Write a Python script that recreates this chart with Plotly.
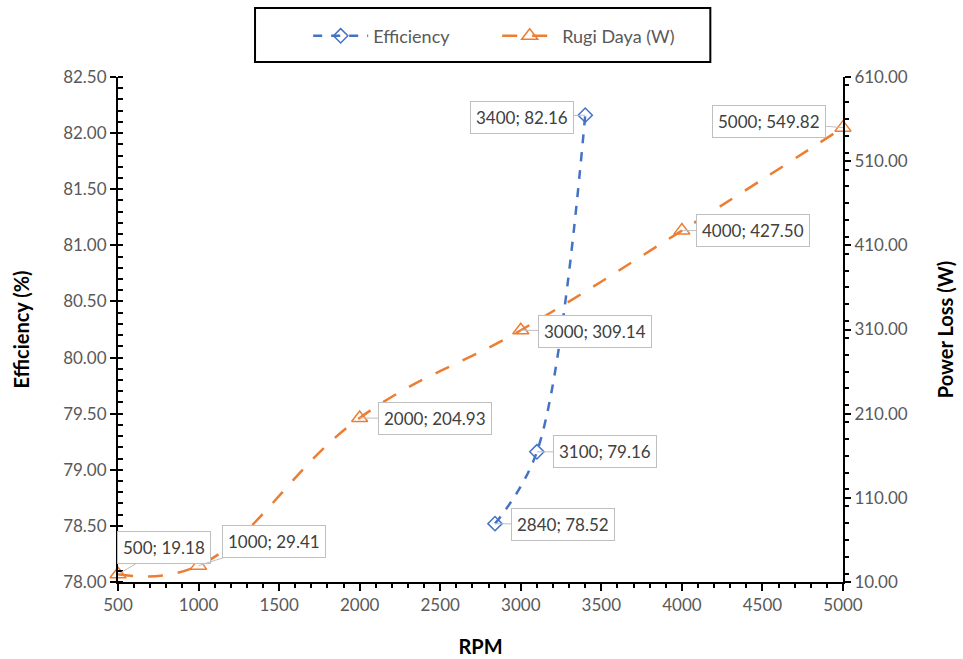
import plotly.graph_objects as go

# Data
rpm_eff = [2840, 3100, 3400]
efficiency = [78.52, 79.16, 82.16]
rpm_loss = [500, 1000, 2000, 3000, 4000, 5000]
power_loss = [19.18, 29.41, 204.93, 309.14, 427.50, 549.82]

# label offsets (pixels) for callouts
eff_offsets = [(68, 1), (68, 0), (-63, 2)]
loss_offsets = [(46, -27), (75, -24), (75, 1), (74, 1), (71, 0), (-74, -6)]

BLUE = "#4472C4"
ORANGE = "#ED7D31"
FONT = "Lato"
GRAY = "#595959"

fig = go.Figure()
fig.add_trace(go.Scatter(
    x=rpm_eff, y=efficiency, name="Efficiency", mode="lines+markers",
    line=dict(color=BLUE, width=2.5, dash="dash", shape="spline", smoothing=1.0),
    marker=dict(symbol="diamond-open", size=11, color=BLUE, line=dict(width=1.5)),
    cliponaxis=False, yaxis="y"))
fig.add_trace(go.Scatter(
    x=rpm_loss, y=power_loss, name="Rugi Daya (W)", mode="lines+markers",
    line=dict(color=ORANGE, width=2.5, dash="longdash", shape="spline", smoothing=1.2),
    marker=dict(symbol="triangle-up-open", size=14, color=ORANGE, line=dict(width=1.5)),
    cliponaxis=False, yaxis="y2"))

annotations = []
lab_font = dict(family=FONT, size=17, color="#404040")
for xv, yv, (ax, ay) in zip(rpm_eff, efficiency, eff_offsets):
    annotations.append(dict(
        x=xv, y=yv, xref="x", yref="y", text=f"{xv}; {yv:.2f}",
        showarrow=True, arrowhead=0, arrowwidth=1, arrowcolor="#BFBFBF",
        ax=ax, ay=ay, bordercolor="#BFBFBF", borderwidth=1, borderpad=5,
        bgcolor="white", font=lab_font))
for xv, yv, (ax, ay) in zip(rpm_loss, power_loss, loss_offsets):
    annotations.append(dict(
        x=xv, y=yv, xref="x", yref="y2", text=f"{xv}; {yv:.2f}",
        showarrow=True, arrowhead=0, arrowwidth=1, arrowcolor="#BFBFBF",
        ax=ax, ay=ay, bordercolor="#BFBFBF", borderwidth=1, borderpad=5,
        bgcolor="white", font=lab_font))

title_font = dict(family=FONT, size=20, color="black")

fig.update_layout(
    width=963, height=659,
    margin=dict(l=118, r=120, t=77, b=77),
    paper_bgcolor="white", plot_bgcolor="white",
    font=dict(family=FONT, size=17, color=GRAY),
    showlegend=True,
    legend=dict(orientation="h", x=0.523, xanchor="center", y=1.081, yanchor="middle",
                font=dict(family=FONT, size=18, color=GRAY), itemwidth=55,
                entrywidth=119, entrywidthmode="pixels",
                bgcolor="rgba(0,0,0,0)"),
    xaxis=dict(range=[500, 5000], dtick=500, tick0=500, showgrid=False, zeroline=False,
               showline=True, linecolor="black", linewidth=2, automargin=False,
               ticks="outside", ticklen=7, tickwidth=2, tickcolor="black",
               minor=dict(ticks="outside", ticklen=4, tickwidth=1.5, dtick=100, tickcolor="black"),
               title=dict(text="<b>RPM</b>", font=title_font, standoff=26)),
    yaxis=dict(range=[78, 82.5], dtick=0.5, tick0=78, tickformat=".2f", showgrid=False, zeroline=False,
               showline=True, linecolor="black", linewidth=2, automargin=False,
               ticks="outside", ticklen=6, tickwidth=2, tickcolor="black",
               minor=dict(ticks="inside", ticklen=5, tickwidth=1.5, dtick=0.1, tickcolor="black"),
               title=dict(text="<b>Efficiency (%)</b>", font=title_font, standoff=28)),
    yaxis2=dict(range=[10, 610], dtick=100, tick0=10, tickformat=".2f", overlaying="y", side="right",
                showgrid=False, zeroline=False, automargin=False,
                showline=True, linecolor="black", linewidth=2,
                ticks="outside", ticklen=6, tickwidth=2, tickcolor="black",
                minor=dict(ticks="outside", ticklen=4, tickwidth=1.5, dtick=20, tickcolor="black"),
                title=dict(text="<b>Power Loss (W)</b>", font=title_font, standoff=32)),
    annotations=annotations,
    shapes=[dict(type="rect", xref="paper", yref="paper", x0=0.189, x1=0.817, y0=1.0297, y1=1.1366,
                 line=dict(color="black", width=2), fillcolor="rgba(0,0,0,0)", layer="below")],
)

fig.write_html("out.html")
